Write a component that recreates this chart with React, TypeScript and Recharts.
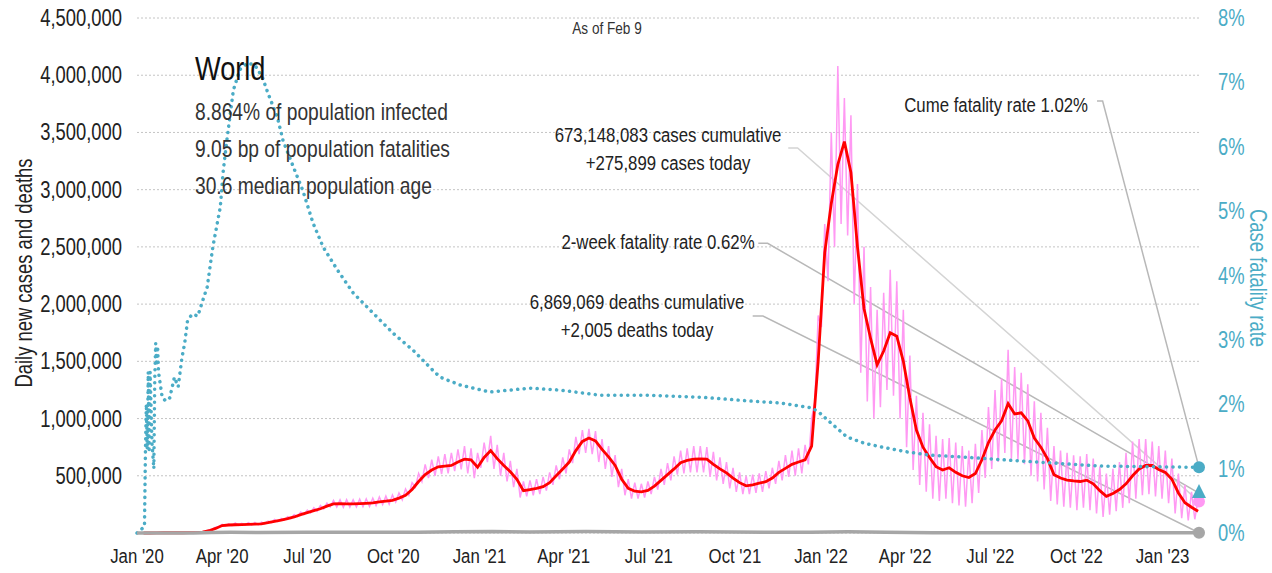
import React from 'react';
import {
  ComposedChart,
  Line,
  XAxis,
  YAxis,
  CartesianGrid,
  ReferenceDot
} from 'recharts';

// weekly series, one value per week starting day 7 (days counted from Jan 1 2020), in thousands
const redAvgK = [
  0, 0, 1, 2, 2, 3, 2, 3, 4, 8,
  20, 40, 65, 70, 72, 74, 76, 78, 80, 90,
  102, 112, 125, 140, 160, 178, 195, 212, 235, 254,
  256, 255, 254, 256, 259, 263, 272, 279, 286, 305,
  330, 380, 450, 510, 550, 578, 585, 590, 620, 645,
  640, 575, 660, 720, 650, 590, 535, 470, 370, 380,
  390, 405, 440, 500, 560, 620, 720, 800, 830, 805,
  730, 665, 590, 470, 390, 365, 360, 372, 410, 460,
  510, 560, 615, 635, 645, 648, 645, 600, 560, 525,
  480, 440, 412, 420, 435, 448, 480, 530, 565, 600,
  620, 640, 760, 1500, 2450, 2880, 3220, 3420, 3150, 2500,
  1960, 1700, 1470, 1590, 1750, 1720, 1500, 1180, 900, 750,
  660, 580, 550, 570, 530, 500, 485, 520, 640, 790,
  900, 980, 1130, 1040, 1050, 980, 830, 750, 650, 510,
  480, 463, 455, 450, 462, 430, 370, 320, 345, 380,
  430, 500, 560, 590, 590, 555, 530, 470, 350, 265,
  225, 190
];

// daily new cases: weekly high day and mid-week low, in thousands
const pinkHiK = [
  0, 1, 1, 3, 3, 4, 3, 4, 6, 12,
  26, 50, 75, 80, 88, 85, 90, 92, 95, 104,
  118, 128, 142, 160, 182, 200, 220, 240, 262, 285,
  290, 292, 290, 295, 298, 305, 315, 322, 332, 350,
  385, 440, 520, 600, 640, 670, 690, 700, 730, 760,
  740, 700, 790, 850, 770, 700, 630, 560, 450, 460,
  470, 490, 530, 590, 660, 730, 840, 900, 910, 890,
  820, 760, 680, 560, 470, 440, 430, 450, 490, 560,
  610, 670, 720, 740, 760, 760, 750, 710, 660, 620,
  570, 530, 500, 510, 520, 540, 570, 630, 680, 720,
  740, 770, 1000, 1900, 2700, 3500, 4080, 3800, 3650, 3050,
  2500, 2150, 1950, 2100, 2300, 2200, 1950, 1550, 1200, 1050,
  950, 850, 820, 830, 790, 760, 720, 780, 900, 1100,
  1250, 1350, 1600, 1450, 1400, 1300, 1150, 1050, 920, 760,
  720, 700, 680, 670, 690, 650, 580, 520, 560, 620,
  700, 800, 820, 820, 800, 760, 720, 650, 520, 420,
  360, 290
];

const pinkLoK = [
  0, 0, 0, 1, 1, 2, 1, 2, 3, 6,
  16, 34, 58, 62, 65, 66, 68, 70, 72, 80,
  90, 100, 112, 126, 144, 160, 175, 190, 210, 228,
  228, 225, 226, 228, 230, 232, 240, 248, 252, 270,
  290, 330, 400, 450, 480, 500, 515, 520, 540, 555,
  520, 480, 570, 620, 560, 500, 450, 400, 310, 320,
  330, 340, 370, 420, 470, 520, 610, 690, 700, 690,
  620, 560, 490, 400, 330, 300, 300, 310, 340, 380,
  420, 460, 510, 520, 530, 530, 530, 490, 460, 430,
  390, 360, 340, 340, 350, 360, 390, 430, 460, 490,
  500, 520, 600, 1150, 1800, 2200, 2500, 2700, 2600, 2000,
  1400, 1150, 1000, 1100, 1250, 1200, 1000, 750, 550, 420,
  360, 300, 280, 300, 260, 240, 230, 260, 350, 480,
  560, 620, 700, 650, 640, 600, 500, 450, 380, 280,
  250, 230, 220, 200, 220, 200, 170, 140, 160, 190,
  220, 260, 300, 330, 340, 320, 300, 260, 170, 130,
  110, 120
];

// case fatality rate (%)
const cfrDays = [
  0, 8, 9, 10, 11, 12, 13, 14, 16, 18, 19, 20, 21, 22, 23, 25, 27, 31, 35, 40,
  44, 48, 51, 54, 59, 65, 70, 75, 81, 89, 92, 96, 103, 110, 118, 126, 134, 140,
  150, 156, 167, 177, 188, 199, 214, 231, 252, 274, 295, 316, 324, 345, 377, 420,
  452, 495, 548, 602, 655, 687, 722, 730, 740, 759, 776, 794, 823, 847, 883, 933,
  1029, 1083, 1135
];
const cfrPct = [
  0, 0.1, 1.25, 2.0, 1.3, 2.5, 1.25, 2.5, 1.4, 1.0, 2.4, 2.95, 2.6, 2.9, 2.5, 2.3, 2.1, 2.05, 2.1, 2.42,
  2.27, 2.72, 2.95, 3.3, 3.4, 3.37, 3.6, 3.82, 4.44, 5.06, 5.6, 6.1, 6.88, 7.2, 7.3, 7.27, 7.08, 6.83,
  6.46, 6.1, 5.69, 5.33, 4.82, 4.44, 4.09, 3.73, 3.42, 3.1, 2.84, 2.53, 2.42, 2.3, 2.19, 2.25,
  2.22, 2.14, 2.14, 2.11, 2.05, 2.02, 1.94, 1.86, 1.73, 1.49, 1.4, 1.34, 1.26, 1.21, 1.18, 1.13,
  1.04, 1.03, 1.02
];

// daily deaths, thousands
const deathsDays = [0, 60, 80, 100, 130, 180, 240, 300, 340, 380, 420, 480, 540, 600, 680, 720, 760, 800, 850, 900, 1000, 1100, 1135];
const deathsK = [0, 1, 5, 7, 5, 5.5, 5.5, 7, 10, 14, 9, 13, 8, 10, 7, 7, 10, 6, 3, 2, 2, 1.5, 2];

const monthTicks = [0, 91, 182, 274, 366, 456, 547, 639, 731, 821, 912, 1004, 1096];
const monthLabels = [
  "Jan '20", "Apr '20", "Jul '20", "Oct '20",
  "Jan '21", "Apr '21", "Jul '21", "Oct '21",
  "Jan '22", "Apr '22", "Jul '22", "Oct '22", "Jan '23"
];
const leftTicks = [500000, 1000000, 1500000, 2000000, 2500000, 3000000, 3500000, 4000000, 4500000];
const rightTicks = [0, 1, 2, 3, 4, 5, 6, 7, 8];

const LAST_DAY = 1135;
const casesToday = 275899;
const cumeCfr = 1.02;
const twoWeekCfr = 0.62;
const deathsToday = 2005;

const FONT = '"Liberation Sans", Arial, sans-serif';
const SX = 0.8; // horizontal squeeze to get a condensed face
const TEAL = '#4bacc6';
const PINK = '#ff99f3';
const RED = '#ff0000';
const GRAY = '#a6a6a6';
const INK = '#222';

const avgData = redAvgK.map((v, i) => ({ day: 7 + 7 * i, v: v * 1000 }));
const pinkData = pinkHiK.flatMap((hi, i) => [
  { day: 3.5 + 7 * i, v: pinkLoK[i] * 1000 },
  { day: 7 + 7 * i, v: hi * 1000 }
]);
pinkData.push({ day: LAST_DAY, v: casesToday });
const cfrData = cfrDays.map((d, i) => ({ day: d, v: cfrPct[i] }));
const deathsData = deathsDays.map((d, i) => ({ day: d, v: deathsK[i] * 1000 }));

// leader lines from the annotation text to the end markers
const casesLeader = [{ day: 696, v: 3364000 }, { day: 706, v: 3364000 }, { day: LAST_DAY, v: casesToday }];
const twoWeekLeader = [{ day: 664, v: 4.5 }, { day: 674, v: 4.5 }, { day: LAST_DAY, v: twoWeekCfr }];
const deathsLeader = [{ day: 658, v: 1896000 }, { day: 669, v: 1896000 }, { day: LAST_DAY, v: deathsToday }];
const cumeLeader = [{ day: 1026, v: 6.71 }, { day: 1032, v: 6.71 }, { day: LAST_DAY, v: cumeCfr }];

const NText = ({ x, y, size, anchor = 'start', fill = INK, rotate = 0, children }: any) => (
  <text
    transform={`translate(${x},${y}) rotate(${rotate}) scale(${SX},1)`}
    fontSize={size}
    textAnchor={anchor}
    fill={fill}
    fontFamily={FONT}
  >
    {children}
  </text>
);

const XTick = ({ x, y, payload }: any) => (
  <NText x={x} y={y + 30} size={21} anchor="middle">
    {monthLabels[monthTicks.indexOf(payload.value)]}
  </NText>
);

const LeftTick = ({ x, y, payload }: any) => (
  <NText x={x} y={y + 8} size={23} anchor="end">
    {payload.value.toLocaleString('en-US')}
  </NText>
);

const RightTick = ({ x, y, payload }: any) => (
  <NText x={x} y={y + 8} size={23} anchor="start" fill={TEAL}>
    {`${payload.value}%`}
  </NText>
);

const Triangle = (p: any) => (
  <polygon
    points={`${p.cx},${p.cy - 9} ${p.cx - 7},${p.cy + 5} ${p.cx + 7},${p.cy + 5}`}
    fill={TEAL}
  />
);

const leader = (data: any[], axis: string, color: string, key: string) => (
  <Line
    key={key}
    data={data}
    dataKey="v"
    yAxisId={axis}
    stroke={color}
    strokeWidth={1.5}
    dot={false}
    activeDot={false}
    type="linear"
    isAnimationActive={false}
  />
);

const App: React.FC = () => {
  return (
    <div style={{ position: 'relative', width: 1272, height: 573 }}>
      <style>{'body{margin:0}'}</style>
      <ComposedChart
        width={1272}
        height={573}
        margin={{ top: 18, right: 0, bottom: 0, left: 0 }}
      >
        <CartesianGrid yAxisId="left" vertical={false} stroke="#c4c4c4" strokeDasharray="2 2" />
        <XAxis
          dataKey="day"
          type="number"
          domain={[0, LAST_DAY]}
          ticks={monthTicks}
          interval={0}
          axisLine={false}
          tickLine={false}
          tickSize={0}
          tickMargin={0}
          height={40}
          tick={<XTick />}
        />
        <YAxis
          yAxisId="left"
          domain={[0, 4500000]}
          ticks={leftTicks}
          interval={0}
          width={137}
          axisLine={false}
          tickLine={false}
          tickSize={0}
          tickMargin={15}
          tick={<LeftTick />}
        />
        <YAxis
          yAxisId="right"
          orientation="right"
          domain={[0, 8]}
          ticks={rightTicks}
          interval={0}
          width={73}
          axisLine={false}
          tickLine={false}
          tickSize={0}
          tickMargin={19}
          tick={<RightTick />}
        />

        {leader(casesLeader, 'left', '#d4d4d4', 'l1')}
        {leader(twoWeekLeader, 'right', '#b8b8b8', 'l2')}
        {leader(deathsLeader, 'left', '#b8b8b8', 'l3')}
        {leader(cumeLeader, 'right', '#b8b8b8', 'l4')}

        <Line
          data={pinkData}
          dataKey="v"
          yAxisId="left"
          stroke={PINK}
          strokeWidth={1.5}
          dot={false}
          activeDot={false}
          type="linear"
          isAnimationActive={false}
        />
        <Line
          data={avgData}
          dataKey="v"
          yAxisId="left"
          stroke={RED}
          strokeWidth={2.8}
          dot={false}
          activeDot={false}
          type="linear"
          isAnimationActive={false}
        />
        <Line
          data={cfrData}
          dataKey="v"
          yAxisId="right"
          stroke={TEAL}
          strokeWidth={3.5}
          strokeDasharray="0.1 6.4"
          strokeLinecap="round"
          dot={false}
          activeDot={false}
          type="linear"
          isAnimationActive={false}
        />
        <Line
          data={deathsData}
          dataKey="v"
          yAxisId="left"
          stroke={GRAY}
          strokeWidth={3.5}
          dot={false}
          activeDot={false}
          type="linear"
          isAnimationActive={false}
        />

        <ReferenceDot x={LAST_DAY} y={deathsToday} yAxisId="left" r={6} fill={GRAY} stroke="none" ifOverflow="visible" />
        <ReferenceDot x={LAST_DAY} y={casesToday} yAxisId="left" r={6} fill={PINK} stroke="none" ifOverflow="visible" />
        <ReferenceDot x={LAST_DAY} y={cumeCfr} yAxisId="right" r={6} fill={TEAL} stroke="none" ifOverflow="visible" />
        <ReferenceDot x={LAST_DAY} y={twoWeekCfr} yAxisId="right" ifOverflow="visible" shape={Triangle} />
      </ComposedChart>

      <svg
        width={1272}
        height={573}
        style={{ position: 'absolute', left: 0, top: 0, pointerEvents: 'none' }}
      >
        <NText x={607} y={34} size={17} anchor="middle" fill="#333">As of Feb 9</NText>

        <NText x={195} y={80} size={34} fill="#111">World</NText>
        <NText x={195} y={120} size={24} fill="#333">8.864% of population infected</NText>
        <NText x={195} y={157} size={24} fill="#333">9.05 bp of population fatalities</NText>
        <NText x={195} y={194} size={24} fill="#333">30.6 median population age</NText>

        <NText x={1088} y={112} size={21} anchor="end">Cume fatality rate 1.02%</NText>
        <NText x={668} y={142} size={21} anchor="middle">673,148,083 cases cumulative</NText>
        <NText x={668} y={170} size={21} anchor="middle">+275,899 cases today</NText>
        <NText x={658} y={249} size={21} anchor="middle">2-week fatality rate 0.62%</NText>
        <NText x={637} y={309} size={21} anchor="middle">6,869,069 deaths cumulative</NText>
        <NText x={637} y={337} size={21} anchor="middle">+2,005 deaths today</NText>

        <NText x={32} y={273} size={23} anchor="middle" rotate={-90}>Daily new cases and deaths</NText>
        <NText x={1250} y={278} size={23} anchor="middle" rotate={90} fill={TEAL}>Case fatality rate</NText>
      </svg>
    </div>
  );
};

export default App;
